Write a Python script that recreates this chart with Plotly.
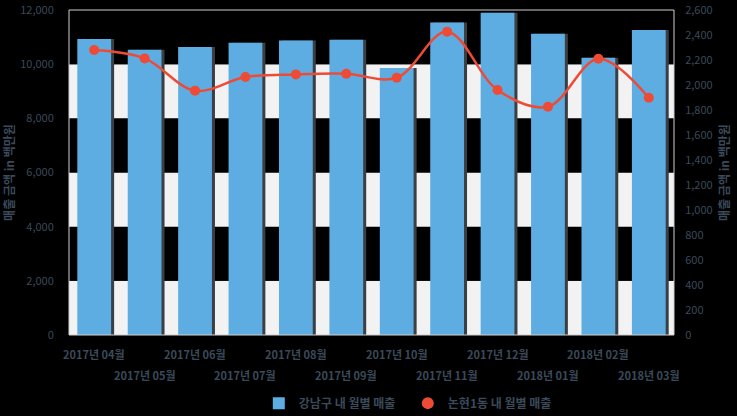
import plotly.graph_objects as go

months = ["2017년 04월", "2017년 05월", "2017년 06월", "2017년 07월", "2017년 08월", "2017년 09월",
          "2017년 10월", "2017년 11월", "2017년 12월", "2018년 01월", "2018년 02월", "2018년 03월"]
gangnam_sales = [10930, 10535, 10635, 10795, 10870, 10905, 9860, 11535, 11900, 11125, 10240, 11260]
nonhyeon_sales = [2280, 2213, 1955, 2064, 2085, 2090, 2058, 2427, 1960, 1826, 2210, 1898]
left_ticks = [0, 2000, 4000, 6000, 8000, 10000, 12000]
right_ticks = [0, 200, 400, 600, 800, 1000, 1200, 1400, 1600, 1800, 2000, 2200, 2400, 2600]

FONT = "Noto Sans CJK KR"
TXT = "#3a4a5a"
RED = "#ee4b36"
xs = list(range(len(months)))

fig = go.Figure()

# shadow bars
fig.add_trace(go.Bar(x=xs, y=gangnam_sales, width=0.67, offset=-0.335 + 0.06,
                     marker=dict(color="#3a3f44", line=dict(width=0)), showlegend=False,
                     hoverinfo="skip", yaxis="y"))
fig.add_trace(go.Bar(x=xs, y=gangnam_sales, width=0.67, offset=-0.335,
                     marker=dict(color="#5dade2", line=dict(width=0)), name="강남구 내 월별 매출",
                     yaxis="y"))
fig.add_trace(go.Scatter(x=xs, y=nonhyeon_sales, mode="lines",
                         line=dict(color=RED, width=2.5, shape="spline", smoothing=1.0),
                         showlegend=False, hoverinfo="skip", yaxis="y2"))
fig.add_trace(go.Scatter(x=xs, y=nonhyeon_sales, mode="markers",
                         marker=dict(size=10, color=RED), name="논현1동 내 월별 매출",
                         yaxis="y2"))

shapes = []
for i in range(0, 12000, 2000):
    idx = i // 2000
    col = "#f2f2f2" if idx % 2 == 0 else "#000000"
    shapes.append(dict(type="rect", xref="paper", yref="y", x0=0, x1=1, y0=i, y1=i + 2000,
                       fillcolor=col, line=dict(width=0), layer="below"))
shapes.append(dict(type="rect", xref="paper", yref="paper", x0=0, x1=1, y0=0, y1=1,
                   line=dict(color="#cfcfcf", width=1), fillcolor="rgba(0,0,0,0)", layer="above"))

annotations = []
for i, m in enumerate(months):
    annotations.append(dict(x=i, xref="x", y=-0.057 if i % 2 == 0 else -0.122, yref="paper",
                            text=m, showarrow=False, xanchor="center", yanchor="middle",
                            font=dict(family=FONT, size=11, color=TXT, weight="bold")))

fig.update_layout(
    width=737, height=416,
    margin=dict(l=69, r=63, t=10, b=81, autoexpand=False),
    paper_bgcolor="#000000", plot_bgcolor="#000000",
    barmode="overlay",
    font=dict(family=FONT, size=11, color=TXT),
    shapes=shapes, annotations=annotations,
    xaxis=dict(range=[-0.5, 11.5], showticklabels=False, showgrid=False, zeroline=False,
               ticks="", automargin=False),
    yaxis=dict(range=[0, 12000], tickvals=left_ticks, tickformat=",", showgrid=False,
               zeroline=False, ticks="outside", ticklen=12, tickcolor="rgba(0,0,0,0)",
               automargin=False,
               tickfont=dict(family=FONT, size=11, color=TXT),
               title=dict(text="매출 금액 in 백만원", standoff=4,
                          font=dict(family=FONT, size=12, color=TXT, weight="bold"))),
    yaxis2=dict(range=[0, 2600], tickvals=right_ticks, tickformat=",", overlaying="y",
                side="right", showgrid=False, zeroline=False, ticks="outside", ticklen=8,
                tickcolor="rgba(0,0,0,0)", automargin=False,
                tickfont=dict(family=FONT, size=11, color=TXT),
                title=dict(text="매출 금액 in 백만원", standoff=8,
                           font=dict(family=FONT, size=12, color=TXT, weight="bold"))),
    legend=dict(orientation="h", x=0.56, xanchor="center", y=-0.165, yanchor="top",
                font=dict(family=FONT, size=12, color=TXT, weight="bold"),
                bgcolor="rgba(0,0,0,0)", itemsizing="constant", traceorder="normal",
                entrywidth=104),
    showlegend=True,
)

fig.write_html("out.html", config={"displayModeBar": False},
               post_script="document.body.style.margin='0';document.body.style.background='#000';")
